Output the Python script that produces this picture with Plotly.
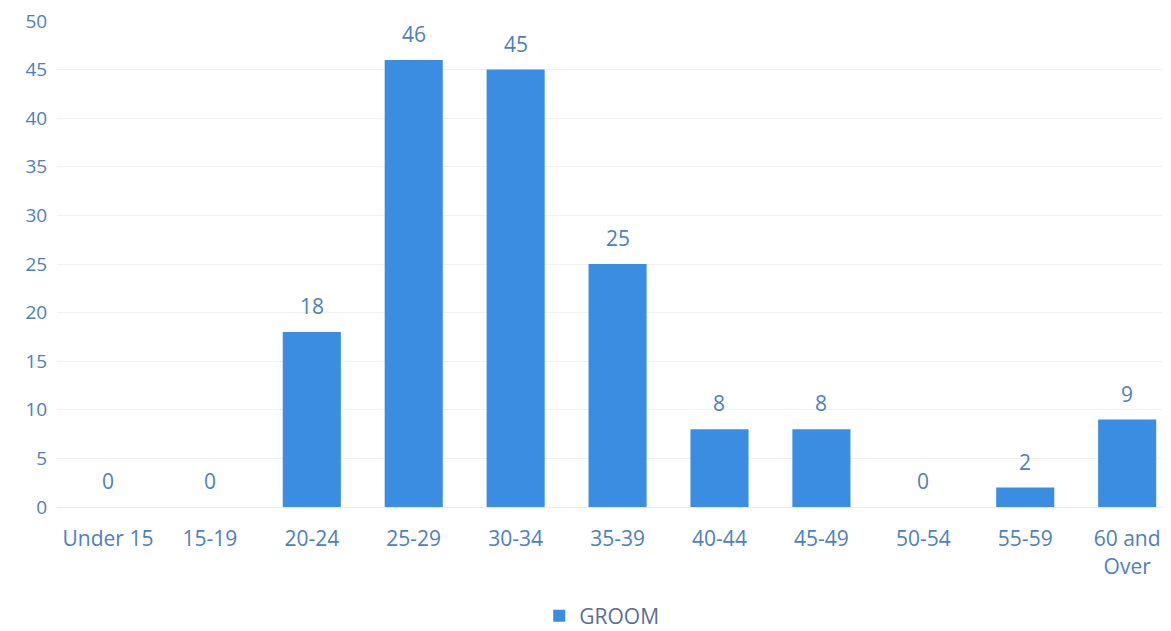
import plotly.graph_objects as go

categories = ["Under 15", "15-19", "20-24", "25-29", "30-34", "35-39",
              "40-44", "45-49", "50-54", "55-59", "60 and<br>Over"]
groom = [0, 0, 18, 46, 45, 25, 8, 8, 0, 2, 9]
y_ticks = [0, 5, 10, 15, 20, 25, 30, 35, 40, 45, 50]

label_color = "#4d80bf"
bar_color = "#3b8de1"
font_family = "Open Sans, Lato, sans-serif"
fs = 21

xs = list(range(len(categories)))

fig = go.Figure()
fig.add_trace(go.Bar(
    x=xs,
    y=groom,
    name="GROOM",
    marker=dict(color=bar_color, line=dict(width=0)),
    width=0.57,
))

for xi, v in zip(xs, groom):
    fig.add_annotation(x=xi, y=v, text=str(v), showarrow=False,
                       yanchor="bottom", yshift=10,
                       font=dict(color=label_color, size=fs, family=font_family))

fig.update_layout(
    width=1163, height=623,
    margin=dict(l=49, r=0, t=13, b=124, autoexpand=False),
    paper_bgcolor="white", plot_bgcolor="white",
    font=dict(family=font_family, size=fs, color=label_color),
    showlegend=True,
    legend=dict(orientation="h", x=0.489, xanchor="center",
                yref="container", y=0.024, yanchor="middle",
                font=dict(color="#5a6f8f", size=fs, family=font_family),
                itemwidth=30),
    xaxis=dict(
        tickmode="array",
        tickvals=xs,
        ticktext=categories,
        range=[-0.5, 10.43],
        automargin=False,
        ticklabeloverflow="allow",
        showgrid=False, zeroline=False, showline=False,
        ticks="outside", ticklen=13, tickcolor="rgba(0,0,0,0)",
        tickfont=dict(color=label_color, size=fs, family=font_family),
    ),
    yaxis=dict(
        range=[0, 50],
        automargin=False,
        ticklabeloverflow="allow",
        tickmode="array", tickvals=y_ticks,
        showgrid=True, gridcolor="#f1f1f1", gridwidth=1,
        zeroline=True, zerolinecolor="#ebebeb", zerolinewidth=1,
        showline=False,
        ticks="outside", ticklen=5, tickcolor="rgba(0,0,0,0)",
        tickfont=dict(color=label_color, size=19, family=font_family),
    ),
)

fig.write_html("out.html")
